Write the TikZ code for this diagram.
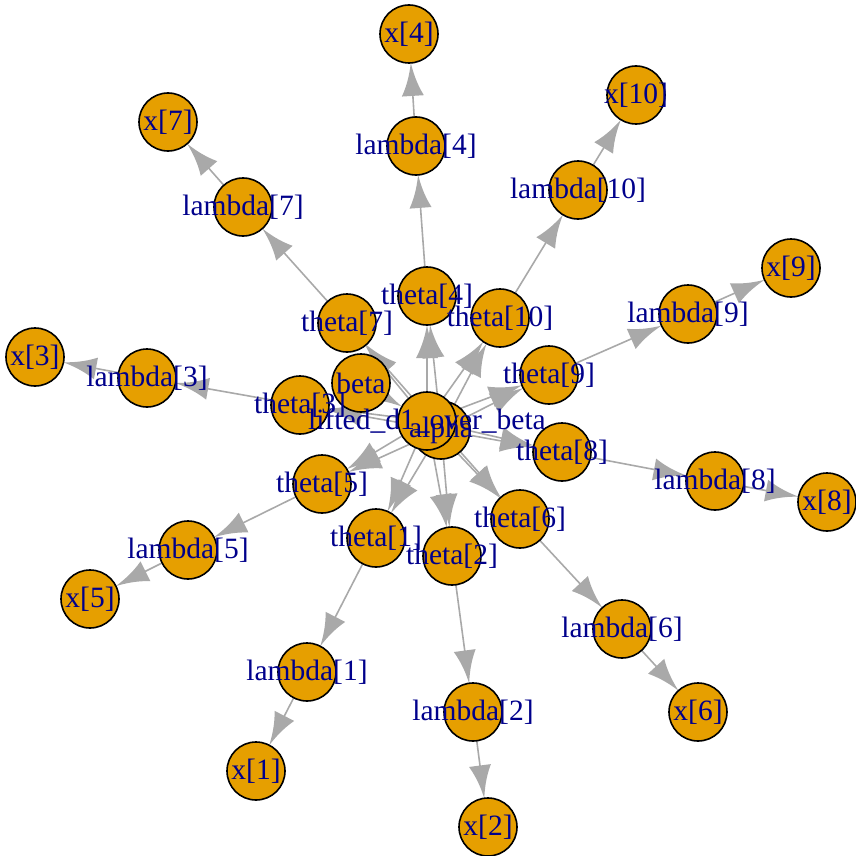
\documentclass[tikz,border=0pt]{standalone}
\usepackage{fontspec}
\setmainfont{Liberation Serif}
\pgfdeclarelayer{bg}
\pgfsetlayers{bg,main}
\definecolor{vfill}{HTML}{E69F00}
\definecolor{lbl}{HTML}{00008B}
\definecolor{edg}{HTML}{A9A9A9}
\pgfdeclarearrow{
  name = IG,
  setup code = {
    \pgfarrowssettipend{0pt}
    \pgfarrowssetlineend{-14pt}
    \pgfarrowssetvisualbackend{-33pt}
    \pgfarrowssetbackend{-33pt}
    \pgfarrowshullpoint{0pt}{0pt}
    \pgfarrowshullpoint{-33pt}{11pt}
    \pgfarrowshullpoint{-33pt}{-11pt}
  },
  drawing code = {
    \pgfpathmoveto{\pgfpointorigin}
    \pgfpathcurveto{\pgfpoint{-8pt}{1.5pt}}{\pgfpoint{-20pt}{4pt}}{\pgfpoint{-33pt}{11pt}}
    \pgfpathlineto{\pgfpoint{-33pt}{-11pt}}
    \pgfpathcurveto{\pgfpoint{-20pt}{-4pt}}{\pgfpoint{-8pt}{-1.5pt}}{\pgfpointorigin}
    \pgfpathclose
    \pgfusepathqfill
  }
}
\begin{document}
\begin{tikzpicture}[x=1pt,y=-1pt,
  v/.style={circle,draw=black,fill=vfill,line width=1.6pt,minimum size=58pt,inner sep=0pt,outer sep=0pt},
  lab/.style={text=lbl,font=\fontsize{29.5}{31}\selectfont,inner sep=0pt},
  e/.style={draw=edg,fill=edg,line width=1.6pt,-{IG}}]
\useasboundingbox (0,0) rectangle (855,856);
% theta nodes
\node[v] (t1) at (376,538) {};
\node[v] (t2) at (452,556) {};
\node[v] (t3) at (300,405) {};
\node[v] (t4) at (427,296) {};
\node[v] (t5) at (322,484) {};
\node[v] (t6) at (520,519) {};
\node[v] (t7) at (347,323) {};
\node[v] (t8) at (562,452) {};
\node[v] (t9) at (549,375) {};
\node[v] (t10) at (500,318) {};
% lambda nodes
\node[v] (l1) at (307,672) {};
\node[v] (l2) at (473,712) {};
\node[v] (l3) at (147,378) {};
\node[v] (l4) at (416,146) {};
\node[v] (l5) at (188,550) {};
\node[v] (l6) at (622,629) {};
\node[v] (l7) at (243,207) {};
\node[v] (l8) at (715,481) {};
\node[v] (l9) at (688,314) {};
\node[v] (l10) at (578,190) {};
% x nodes
\node[v] (x1) at (256,771) {};
\node[v] (x2) at (488,827) {};
\node[v] (x3) at (35,357) {};
\node[v] (x4) at (409,34) {};
\node[v] (x5) at (90,599) {};
\node[v] (x6) at (698,712) {};
\node[v] (x7) at (168,122) {};
\node[v] (x8) at (827,502) {};
\node[v] (x9) at (791,268) {};
\node[v] (x10) at (636,95) {};
% top-level nodes
\node[v] (alpha) at (441,430) {};
\node[v] (beta) at (361,383) {};
\node[v] (lifted) at (427,421) {};
% edges
\begin{pgfonlayer}{bg}
\draw[e] (beta) -- (lifted);
\foreach \i in {1,...,10}{
  \draw[e] (alpha) -- (t\i);
  \draw[e] (lifted) -- (t\i);
  \draw[e] (t\i) -- (l\i);
  \draw[e] (l\i) -- (x\i);
}
\end{pgfonlayer}
% labels
\foreach \i in {1,...,10}{
  \node[lab] at (t\i) {theta[\i]};
  \node[lab] at (l\i) {lambda[\i]};
  \node[lab] at (x\i) {x[\i]};
}
\node[lab] at (beta) {beta};
\node[lab] at (lifted) {lifted\_d1\_over\_beta};
\node[lab] at (alpha) {alpha};
\end{tikzpicture}
\end{document}
